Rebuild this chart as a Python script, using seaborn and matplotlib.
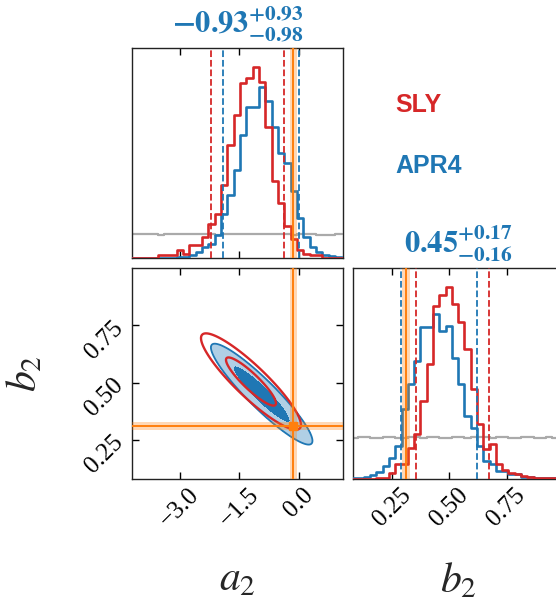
import numpy as np
import pandas as pd
import matplotlib
matplotlib.use("Agg")
import matplotlib.pyplot as plt
import seaborn as sns

# ---------------- data ----------------
# 1D marginal histograms (bin heights, normalised to the SLY peak)
a2_edges = np.linspace(-4.197, 1.083, 34)
b2_edges = np.linspace(0.0726, 1.0042, 35)

a2_sly = [0, 0, 0, 0, 0.014, 0.014, 0.014, 0.040, 0.022, 0.069, 0.069, 0.110,
          0.179, 0.232, 0.381, 0.591, 0.748, 0.913, 0.943, 1.000, 0.922, 0.686,
          0.402, 0.285, 0.167, 0.101, 0.041, 0.022, 0.014, 0.014, 0, 0, 0]
a2_apr4 = [0, 0, 0, 0, 0, 0, 0, 0.003, 0.006, 0.014, 0.033, 0.057, 0.075, 0.119,
           0.232, 0.330, 0.462, 0.642, 0.787, 0.787, 0.895, 0.820, 0.682, 0.550,
           0.495, 0.352, 0.209, 0.110, 0.055, 0.033, 0.017, 0.009, 0.006]
a2_prior = [0.124, 0.126, 0.123, 0.125, 0.122, 0.124, 0.126, 0.125, 0.123, 0.124,
            0.127, 0.125, 0.124, 0.122, 0.125, 0.126, 0.124, 0.123, 0.125, 0.127,
            0.124, 0.123, 0.125, 0.124, 0.126, 0.122, 0.124, 0.125, 0.123, 0.121,
            0.120, 0.122, 0.124]

b2_sly = [0, 0, 0, 0, 0.007, 0.007, 0.033, 0.077, 0.080, 0.164, 0.233, 0.407,
          0.600, 0.904, 0.957, 1.000, 0.913, 0.817, 0.678, 0.469, 0.286, 0.155,
          0.182, 0.080, 0.045, 0.033, 0.028, 0.017, 0.011, 0.007, 0.006, 0.004,
          0.004, 0.004]
b2_apr4 = [0.003, 0.003, 0.011, 0.021, 0.039, 0.066, 0.110, 0.173, 0.363, 0.495,
           0.616, 0.792, 0.792, 0.858, 0.770, 0.800, 0.631, 0.495, 0.330, 0.268,
           0.173, 0.095, 0.080, 0.044, 0.044, 0.024, 0.024, 0.011, 0.011, 0.004,
           0.004, 0.004, 0.004, 0.004]
b2_prior = [0.214, 0.217, 0.219, 0.216, 0.215, 0.218, 0.217, 0.215, 0.216, 0.218,
            0.217, 0.216, 0.219, 0.218, 0.216, 0.215, 0.217, 0.218, 0.216, 0.217,
            0.219, 0.218, 0.216, 0.217, 0.218, 0.216, 0.215, 0.217, 0.218, 0.216,
            0.215, 0.217, 0.216, 0.217]

# 16th / 84th percentiles
a2_q_sly = [-2.22, -0.38]
b2_q_sly = [0.356, 0.673]
a2_apr4_med, a2_apr4_lo, a2_apr4_hi = -0.93, 0.98, 0.93
b2_apr4_med, b2_apr4_lo, b2_apr4_hi = 0.45, 0.16, 0.17

# injected values and their bands
a2_true, a2_true_err = -0.13, 0.09
b2_true, b2_true_err = 0.31, 0.017

# 2D credible regions (Gaussian approximation): centre, widths, correlation, radii
sly_2d = dict(mean=(-1.20, 0.505), sd=(0.63, 0.105), rho=-0.90, radii=(1.0, 2.0))
apr4_2d = dict(mean=(-0.93, 0.45), sd=(0.64, 0.11), rho=-0.925, radii=(1.12, 2.0))

a2_ticks, a2_ticklabels = [-3.0, -1.5, 0.0], ["\u22123.0", "\u22121.5", "0.0"]
b2_ticks, b2_ticklabels = [0.25, 0.50, 0.75], ["0.25", "0.50", "0.75"]
a2_lim, b2_lim = (-4.2, 1.12), (0.08, 1.0)

RED, BLUE, ORANGE, GREY = "#d62728", "#1f77b4", "#ff7f0e", "#aaaaaa"
LIGHT_BLUE = "#b0cfe5"

# ---------------- style ----------------
sns.set_style("ticks")
plt.rcParams.update({
    "font.family": ["Liberation Serif", "DejaVu Serif"],
    "mathtext.fontset": "stix",
    "xtick.direction": "in", "ytick.direction": "in",
    "xtick.top": True, "ytick.right": True,
    "xtick.major.size": 5, "ytick.major.size": 5,
    "xtick.major.width": 1.0, "ytick.major.width": 1.0,
    "xtick.color": "black", "ytick.color": "black",
    "axes.edgecolor": "#222222", "axes.linewidth": 1.0,
    "xtick.labelsize": 18, "ytick.labelsize": 18,
})

W, H = 556, 608
fig = plt.figure(figsize=(W / 100, H / 100), dpi=100)


def axes_px(x0, y0, w, h):
    return fig.add_axes([x0 / W, 1 - (y0 + h) / H, w / W, h / H])


ax_a = axes_px(132, 47.5, 211, 210.5)
ax_ab = axes_px(132, 268, 211, 211)
ax_b = axes_px(353, 268, 211, 211)


def step_hist(ax, edges, heights, color, lw=1.9, z=3):
    centers = 0.5 * (edges[:-1] + edges[1:])
    df = pd.DataFrame({"value": centers, "height": heights})
    sns.histplot(data=df, x="value", weights="height", bins=list(edges), element="step",
                 fill=False, color=color, linewidth=lw, ax=ax, zorder=z)


def truth_v(ax, x, err):
    ax.axvspan(x - err, x + err, color=ORANGE, alpha=0.3, lw=0, zorder=5)
    ax.axvline(x, color=ORANGE, lw=1.4, zorder=6)


TITLE_KW = dict(color=BLUE, fontsize=22, pad=11)

# ---- a2 marginal ----
step_hist(ax_a, a2_edges, a2_prior, GREY, lw=1.6, z=2)
step_hist(ax_a, a2_edges, a2_apr4, BLUE)
step_hist(ax_a, a2_edges, a2_sly, RED)
for v in a2_q_sly:
    ax_a.axvline(v, color=RED, ls="--", lw=1.3, zorder=4)
for v in (a2_apr4_med - a2_apr4_lo, a2_apr4_med + a2_apr4_hi):
    ax_a.axvline(v, color=BLUE, ls="--", lw=1.3, zorder=4)
truth_v(ax_a, a2_true, a2_true_err)
ax_a.set_xlim(a2_lim)
ax_a.set_ylim(0, 1.1)
ax_a.set_xticks(a2_ticks)
ax_a.set_xticklabels([])
ax_a.set_yticks([])
ax_a.set_xlabel("")
ax_a.set_ylabel("")
ax_a.set_title(r"$\mathbf{%.2f^{+%.2f}_{-%.2f}}$" % (a2_apr4_med, a2_apr4_hi, a2_apr4_lo),
               **TITLE_KW)

# ---- b2 marginal ----
step_hist(ax_b, b2_edges, b2_prior, GREY, lw=1.6, z=2)
step_hist(ax_b, b2_edges, b2_apr4, BLUE)
step_hist(ax_b, b2_edges, b2_sly, RED)
for v in b2_q_sly:
    ax_b.axvline(v, color=RED, ls="--", lw=1.3, zorder=4)
for v in (b2_apr4_med - b2_apr4_lo, b2_apr4_med + b2_apr4_hi):
    ax_b.axvline(v, color=BLUE, ls="--", lw=1.3, zorder=4)
truth_v(ax_b, b2_true, b2_true_err)
ax_b.set_xlim(b2_lim)
ax_b.set_ylim(0, 1.1)
ax_b.set_xticks(b2_ticks)
ax_b.set_xticklabels(b2_ticklabels)
ax_b.set_yticks([])
ax_b.set_ylabel("")
ax_b.set_xlabel(r"$b_2$", fontsize=30)
ax_b.xaxis.set_label_coords(0.5, -0.39)
ax_b.set_title(r"$\mathbf{%.2f^{+%.2f}_{-%.2f}}$" % (b2_apr4_med, b2_apr4_hi, b2_apr4_lo),
               **TITLE_KW)

# ---- joint a2-b2 ----
A, B = np.meshgrid(np.linspace(*a2_lim, 400), np.linspace(*b2_lim, 400))


def mahal2(p):
    (ma, mb), (sa, sb), r = p["mean"], p["sd"], p["rho"]
    za, zb = (A - ma) / sa, (B - mb) / sb
    return (za ** 2 - 2 * r * za * zb + zb ** 2) / (1 - r ** 2)


d_apr4 = mahal2(apr4_2d)
r1, r2 = apr4_2d["radii"]
ax_ab.contourf(A, B, d_apr4, levels=[0, r1 ** 2, r2 ** 2], colors=[BLUE, LIGHT_BLUE], zorder=2)
ax_ab.contour(A, B, d_apr4, levels=[r2 ** 2], colors=[BLUE], linewidths=1.3, zorder=3)
d_sly = mahal2(sly_2d)
ax_ab.contour(A, B, d_sly, levels=[r ** 2 for r in sly_2d["radii"]], colors=[RED],
              linewidths=1.7, zorder=4)

ax_ab.axvspan(a2_true - a2_true_err, a2_true + a2_true_err, color=ORANGE, alpha=0.3, lw=0, zorder=5)
ax_ab.axhspan(b2_true - b2_true_err, b2_true + b2_true_err, color=ORANGE, alpha=0.3, lw=0, zorder=5)
ax_ab.axvline(a2_true, color=ORANGE, lw=1.4, zorder=6)
ax_ab.axhline(b2_true, color=ORANGE, lw=1.4, zorder=6)
ax_ab.plot([a2_true], [b2_true], "s", color=ORANGE, ms=6, zorder=7)

ax_ab.set_xlim(a2_lim)
ax_ab.set_ylim(b2_lim)
ax_ab.set_xticks(a2_ticks)
ax_ab.set_xticklabels(a2_ticklabels)
ax_ab.set_yticks(b2_ticks)
ax_ab.set_yticklabels(b2_ticklabels)
ax_ab.set_xlabel(r"$a_2$", fontsize=30)
ax_ab.set_ylabel(r"$b_2$", fontsize=30)
ax_ab.xaxis.set_label_coords(0.5, -0.39)
ax_ab.yaxis.set_label_coords(-0.41, 0.5)

for ax in (ax_ab, ax_b):
    ax.tick_params(axis="x", labelrotation=45)
ax_ab.tick_params(axis="y", labelrotation=45)

# model names
fig.text(395 / W, 1 - 111.5 / H, "SLY", color=RED, fontsize=18, fontweight="bold",
         family=["Liberation Sans", "DejaVu Sans"])
fig.text(395 / W, 1 - 173 / H, "APR4", color=BLUE, fontsize=18, fontweight="bold",
         family=["Liberation Sans", "DejaVu Sans"])

fig.savefig("out.png", dpi=100)
